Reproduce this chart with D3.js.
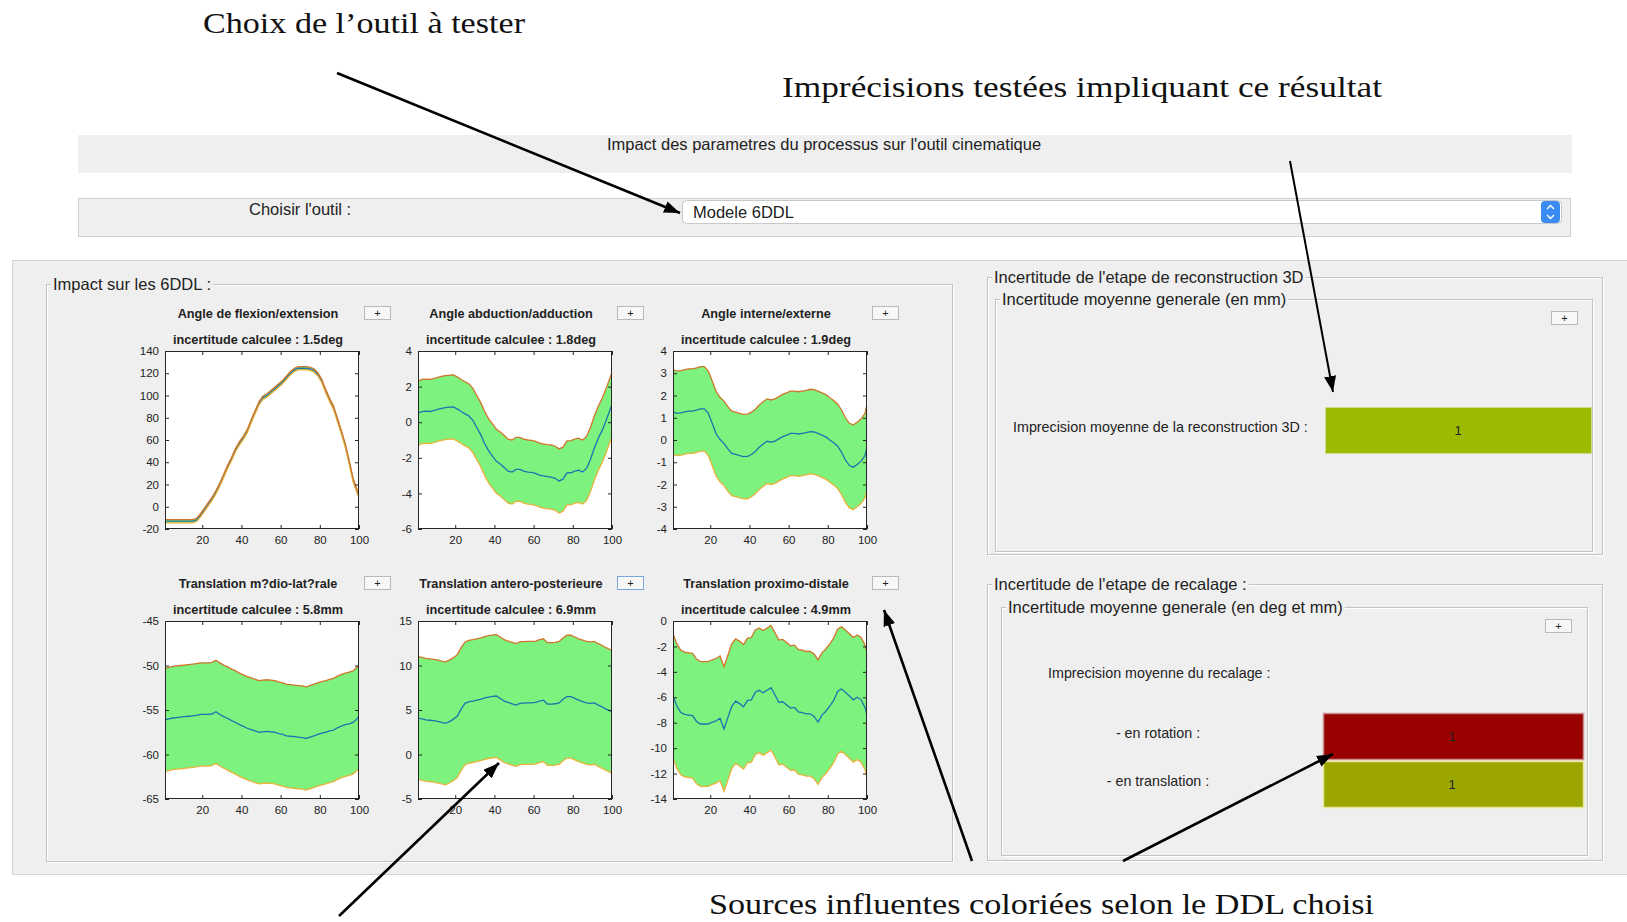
<!DOCTYPE html>
<html>
<head>
<meta charset="utf-8">
<script src="https://cdn.jsdelivr.net/npm/d3@7"></script>
<style>
  body { margin: 0; background: #fff; }
  text { font-family: "Liberation Sans", Arial, sans-serif; fill: #222; }
  .serif { font-family: "Liberation Serif", "DejaVu Serif", serif; fill: #111; }
</style>
</head>
<body>
<svg id="gui" width="1627" height="922"></svg>
<script>
// frames (% of cycle) where the curves were read
const frames = [1,3,5,7,9,11,13,15,17,19,21,23,25,27,29,31,33,35,37,39,41,43,45,47,49,
  51,53,55,57,59,61,63,65,67,69,71,73,75,77,79,81,83,85,87,89,91,93,95,97,99,100];

// mean curves of the 6 DDL
const flexion = [-13,-13,-13,-13,-13,-13,-13,-13,-12,-8,-3,2,7,13,20,28,36,43,51,57,
  62,68,77,85,93,98,100,103,106,109,112,116,120,123,124.5,124.5,124.5,124,122.5,119,
  113,104,96,89,78,67,55,40,24,14,9];
const abduction = [0.5,0.6,0.62,0.6,0.65,0.72,0.78,0.82,0.85,0.86,0.75,0.6,0.47,0.35,0.1,
  -0.3,-0.7,-1.2,-1.6,-1.9,-2.2,-2.35,-2.55,-2.75,-2.8,-2.65,-2.65,-2.75,-2.8,-2.82,
  -2.88,-2.97,-3.02,-3.06,-3.08,-3.15,-3.3,-3.2,-2.85,-2.84,-2.75,-2.7,-2.8,-2.6,-2.1,
  -1.45,-0.9,-0.46,0.1,0.7,1.0];
const rotation = [1.25,1.2,1.22,1.26,1.3,1.3,1.34,1.4,1.4,1.2,0.75,0.28,0.02,-0.15,-0.4,
  -0.6,-0.65,-0.7,-0.75,-0.74,-0.65,-0.52,-0.33,-0.18,-0.05,-0.1,-0.05,0.05,0.15,0.22,
  0.3,0.3,0.27,0.3,0.33,0.38,0.36,0.3,0.22,0.14,0.0,-0.12,-0.28,-0.55,-0.9,-1.15,-1.22,
  -1.1,-0.95,-0.7,-0.3];
const medioLat = [-56.1,-56.0,-55.9,-55.85,-55.8,-55.75,-55.7,-55.65,-55.6,-55.5,-55.5,
  -55.5,-55.45,-55.2,-55.5,-55.75,-55.95,-56.2,-56.4,-56.65,-56.85,-57.05,-57.2,-57.35,
  -57.5,-57.45,-57.4,-57.45,-57.5,-57.65,-57.75,-57.9,-57.95,-58.0,-58.05,-58.1,-58.2,
  -58.05,-57.9,-57.75,-57.6,-57.5,-57.35,-57.25,-57.0,-56.8,-56.65,-56.55,-56.4,-56.0,-55.7];
const anteroPost = [4.1,4.0,3.9,3.85,3.8,3.72,3.6,3.5,3.7,3.95,4.3,5.1,5.75,5.93,6.0,6.1,
  6.2,6.35,6.45,6.52,6.57,6.3,6.0,5.85,5.7,5.56,5.75,5.78,5.8,5.8,5.85,6.0,6.1,5.67,5.67,
  5.7,5.8,6.2,6.5,6.5,6.3,6.1,5.95,5.8,5.75,5.8,5.55,5.35,5.1,4.9,4.8];
const proxDist = [-5.9,-6.7,-7.2,-7.35,-7.4,-7.45,-7.9,-8.1,-8.1,-8.1,-7.95,-7.85,-7.65,
  -8.5,-7.6,-6.7,-6.3,-6.5,-6.75,-6.25,-6.2,-5.6,-5.45,-5.65,-5.45,-5.25,-5.8,-6.4,-6.35,
  -6.6,-6.85,-6.8,-7.15,-7.2,-7.3,-7.3,-7.5,-7.95,-7.4,-7.1,-6.7,-6.25,-5.55,-5.35,-5.6,
  -5.9,-6.2,-6.0,-6.2,-6.8,-7.4];

const plotTitles = ['Angle de flexion/extension', 'Angle abduction/adduction', 'Angle interne/externe',
  'Translation m?dio-lat?rale', 'Translation antero-posterieure', 'Translation proximo-distale'];
const uncertainties = [1.5, 1.8, 1.9, 5.8, 6.9, 4.9];
const units = ['deg', 'deg', 'deg', 'mm', 'mm', 'mm'];
const yDomains = [[-20, 140], [-6, 4], [-4, 4], [-65, -45], [-5, 15], [-14, 0]];
const yTicks = [
  [-20, 0, 20, 40, 60, 80, 100, 120, 140],
  [-6, -4, -2, 0, 2, 4],
  [-4, -3, -2, -1, 0, 1, 2, 3, 4],
  [-65, -60, -55, -50, -45],
  [-5, 0, 5, 10, 15],
  [-14, -12, -10, -8, -6, -4, -2, 0]
];
const xTicks = [20, 40, 60, 80, 100];
const curves = [flexion, abduction, rotation, medioLat, anteroPost, proxDist];

// summary boxes (right side)
const reconLabel = 'Imprecision moyenne de la reconstruction 3D :';
const reconValue = 1;
const recalLabels = ['- en rotation :', '- en translation :'];
const recalValues = [1, 1];

const svg = d3.select('#gui');
const PANEL = '#efefef';
const EDGE = '#c2c2c2';

// ---------- window chrome ----------
svg.append('rect').attr('x', 78).attr('y', 135).attr('width', 1494).attr('height', 38).attr('fill', PANEL);
svg.append('text').attr('x', 824).attr('y', 150).attr('text-anchor', 'middle')
  .attr('font-size', 16.5).text("Impact des parametres du processus sur l'outil cinematique");

svg.append('rect').attr('x', 78.5).attr('y', 198.5).attr('width', 1492).attr('height', 38)
  .attr('fill', PANEL).attr('stroke', '#cfcfcf');
svg.append('text').attr('x', 249).attr('y', 215).attr('font-size', 16.5).text("Choisir l'outil :");
svg.append('rect').attr('x', 682.5).attr('y', 200.5).attr('width', 879).attr('height', 23).attr('rx', 4)
  .attr('fill', '#fff').attr('stroke', '#c8c8c8');
svg.append('text').attr('x', 693).attr('y', 218).attr('font-size', 16.5).text('Modele 6DDL');
svg.append('rect').attr('x', 1541).attr('y', 201).attr('width', 19).attr('height', 22).attr('rx', 4).attr('fill', '#3a8cf2');
svg.append('path').attr('d', 'M1547,209 L1550.5,205.5 L1554,209 M1547,215 L1550.5,218.5 L1554,215')
  .attr('fill', 'none').attr('stroke', '#fff').attr('stroke-width', 1.4);

svg.append('rect').attr('x', 12.5).attr('y', 260.5).attr('width', 1620).attr('height', 614)
  .attr('fill', PANEL).attr('stroke', '#d3d3d3');

function groupBox(x, y, w, h, title, size) {
  const g = svg.append('g');
  g.append('rect').attr('x', x + 1.5).attr('y', y + 1.5).attr('width', w).attr('height', h)
    .attr('fill', 'none').attr('stroke', '#fff');
  g.append('rect').attr('x', x + 0.5).attr('y', y + 0.5).attr('width', w).attr('height', h)
    .attr('fill', 'none').attr('stroke', EDGE);
  const bg = g.append('rect').attr('fill', PANEL);
  const t = g.append('text').attr('x', x + 7).attr('y', y + 6).attr('font-size', size).text(title);
  const bb = t.node().getBBox();
  bg.attr('x', bb.x - 2).attr('y', bb.y).attr('width', bb.width + 4).attr('height', bb.height);
}

function plusButton(x, y, selected) {
  svg.append('rect').attr('x', x + 0.5).attr('y', y + 0.5).attr('width', 26).attr('height', 13)
    .attr('fill', '#f7f7f7').attr('stroke', selected ? '#7aa7e0' : '#b9b9b9');
  svg.append('text').attr('x', x + 13.5).attr('y', y + 10.5).attr('text-anchor', 'middle')
    .attr('font-size', 11).text('+');
}

groupBox(46, 284, 906, 577, 'Impact sur les 6DDL :', 16.5);
groupBox(987, 277, 615, 277, "Incertitude de l'etape de reconstruction 3D", 16.5);
groupBox(995, 299, 597, 252, 'Incertitude moyenne generale (en mm)', 16.5);
groupBox(987, 584, 615, 276, "Incertitude de l'etape de recalage :", 16.5);
groupBox(1001, 607, 586, 248, 'Incertitude moyenne generale (en deg et mm)', 16.5);

// ---------- the six DDL plots ----------
const colX = [165, 418, 673];
const rowY = [351, 621];
const pw = 194, ph = 178;

curves.forEach((mean, k) => {
  const x0 = colX[k % 3], y0 = rowY[Math.floor(k / 3)];
  const u = uncertainties[k];
  const g = svg.append('g').attr('transform', `translate(${x0},${y0})`);
  const x = d3.scaleLinear().domain([1, 100]).range([0, pw]);
  const y = d3.scaleLinear().domain(yDomains[k]).range([ph, 0]);

  g.append('rect').attr('width', pw).attr('height', ph).attr('fill', '#fff');
  g.append('clipPath').attr('id', 'clip' + k).append('rect').attr('width', pw).attr('height', ph);
  const body = g.append('g').attr('clip-path', `url(#clip${k})`);

  const band = d3.area().x((d, i) => x(frames[i])).y0(d => y(d - u)).y1(d => y(d + u));
  const edge = s => d3.line().x((d, i) => x(frames[i])).y(d => y(d + s * u));
  body.append('path').datum(mean).attr('d', band).attr('fill', '#7ef27e');
  body.append('path').datum(mean).attr('d', d3.line().x((d, i) => x(frames[i])).y(d => y(d)))
    .attr('fill', 'none').attr('stroke', '#1f72b0').attr('stroke-width', 1.3);
  body.append('path').datum(mean).attr('d', edge(-1)).attr('fill', 'none').attr('stroke', '#e9b23a').attr('stroke-width', 1.3);
  body.append('path').datum(mean).attr('d', edge(1)).attr('fill', 'none').attr('stroke', '#d0762a').attr('stroke-width', 1.3);

  const style = a => {
    a.select('.domain').remove();
    a.selectAll('line').attr('stroke', '#262626');
    a.selectAll('text').attr('font-size', 11.5).attr('fill', '#333').attr('font-family', '"Liberation Sans", Arial, sans-serif');
  };
  const plain = d => String(d);
  g.append('g').attr('transform', `translate(0,${ph})`)
    .call(d3.axisBottom(x).tickValues(xTicks).tickFormat(plain).tickSizeInner(-4).tickSizeOuter(0).tickPadding(7)).call(style);
  g.append('g').call(d3.axisLeft(y).tickValues(yTicks[k]).tickFormat(plain).tickSizeInner(-4).tickSizeOuter(0).tickPadding(6)).call(style);
  g.append('g').call(d3.axisTop(x).tickValues(xTicks).tickSizeInner(-4).tickSizeOuter(0).tickFormat('')).call(style);
  g.append('g').attr('transform', `translate(${pw},0)`)
    .call(d3.axisRight(y).tickValues(yTicks[k]).tickSizeInner(-4).tickSizeOuter(0).tickFormat('')).call(style);
  g.append('rect').attr('x', 0.5).attr('y', 0.5).attr('width', pw - 1).attr('height', ph - 1)
    .attr('fill', 'none').attr('stroke', '#262626');

  g.append('text').attr('x', pw / 2 - 4).attr('y', -33).attr('text-anchor', 'middle')
    .attr('font-size', 12.7).attr('font-weight', 'bold').text(plotTitles[k]);
  g.append('text').attr('x', pw / 2 - 4).attr('y', -7).attr('text-anchor', 'middle')
    .attr('font-size', 12.7).attr('font-weight', 'bold').text(`incertitude calculee : ${u}${units[k]}`);

  plusButton(x0 + pw + 5, y0 - 45, k === 4);
});

// ---------- right side summaries ----------
plusButton(1551, 311, false);
svg.append('text').attr('x', 1013).attr('y', 432).attr('font-size', 14.3).text(reconLabel);
svg.append('rect').attr('x', 1325.5).attr('y', 407.5).attr('width', 266).attr('height', 46)
  .attr('fill', '#9bba00').attr('stroke', '#cfdc8a');
svg.append('text').attr('x', 1458).attr('y', 435).attr('text-anchor', 'middle').attr('font-size', 13).text(reconValue);

plusButton(1545, 619, false);
svg.append('text').attr('x', 1048).attr('y', 678).attr('font-size', 14.3).text('Imprecision moyenne du recalage :');
const recalFill = ['#990000', '#9ba600'];
const recalEdge = ['#c98d8d', '#e6e79a'];
recalLabels.forEach((lab, i) => {
  const by = 713 + i * 48;
  svg.append('text').attr('x', 1158).attr('y', by + 25).attr('text-anchor', 'middle').attr('font-size', 14.3).text(lab);
  svg.append('rect').attr('x', 1323.5).attr('y', by + 0.5).attr('width', 260).attr('height', 46)
    .attr('fill', recalFill[i]).attr('stroke', recalEdge[i]).attr('stroke-width', 1.5);
  svg.append('text').attr('x', 1452).attr('y', by + 28).attr('text-anchor', 'middle').attr('font-size', 13)
    .attr('fill', i === 0 ? '#4a0000' : '#222').text(recalValues[i]);
});

// ---------- annotations ----------
const note = (x, y, w, s) => svg.append('text').attr('class', 'serif').attr('x', x).attr('y', y)
  .attr('font-size', 29).attr('textLength', w).attr('lengthAdjust', 'spacingAndGlyphs').text(s);
note(203, 33, 322, 'Choix de l\u2019outil \u00e0 tester');
note(782, 97, 600, 'Impr\u00e9cisions test\u00e9es impliquant ce r\u00e9sultat');
note(709, 914, 665, 'Sources influentes colori\u00e9es selon le DDL choisi');

svg.append('defs').append('marker').attr('id', 'head')
  .attr('markerUnits', 'userSpaceOnUse').attr('markerWidth', 16).attr('markerHeight', 12)
  .attr('refX', 16).attr('refY', 6).attr('orient', 'auto')
  .append('path').attr('d', 'M0,0 L16,6 L0,12 Z').attr('fill', '#000');

const arrows = [
  [337, 73, 680, 213, 2.6],
  [1290, 161, 1333, 392, 2],
  [1123, 861, 1333, 754, 2.6],
  [972, 861, 884, 610, 2.6],
  [339, 916, 499, 763, 2.6]
];
arrows.forEach(([xa, ya, xb, yb, sw]) => {
  svg.append('line').attr('x1', xa).attr('y1', ya).attr('x2', xb).attr('y2', yb)
    .attr('stroke', '#000').attr('stroke-width', sw).attr('marker-end', 'url(#head)');
});
</script>
</body>
</html>
